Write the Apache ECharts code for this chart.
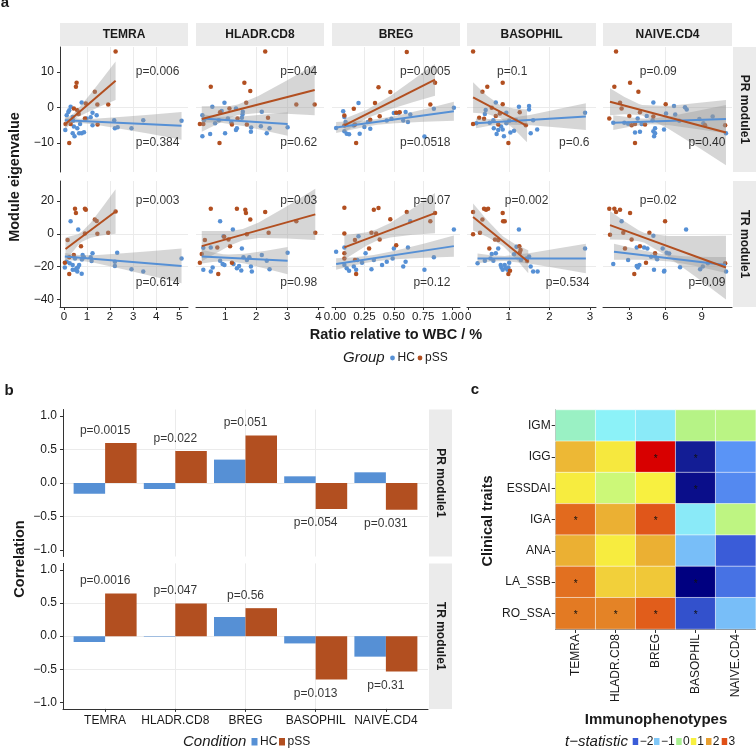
<!DOCTYPE html>
<html><head><meta charset="utf-8">
<script src="https://cdn.jsdelivr.net/npm/echarts@6/dist/echarts.min.js"></script>
<style>html,body{margin:0;padding:0;background:#fff}#c{width:756px;height:748px}</style>
</head><body><div id="c"></div><script>
// ---------------- DATA ----------------
const cellTypes = ['TEMRA','HLADR.CD8','BREG','BASOPHIL','NAIVE.CD4'];
const modules = ['PR module1','TR module1'];

// Panel a: scatter points [ratio, eigenvalue]
const temraPR_HC = [[0.06,-6.4],[0.12,-2.2],[0.19,-1.3],[0.29,0.2],[0.23,-0.8],[0.38,-2.7],[0.40,-3.8],[0.43,-5.4],[0.38,-7.3],[0.46,-8.1],[0.66,-7.3],[0.77,-7.3],[0.87,-7.0],[0.58,-5.9],[0.70,-4.7],[0.77,1.4],[0.98,-3.1],[1.16,-2.8],[1.24,-5.0],[1.24,-1.5],[1.42,-2.2],[2.18,-3.6],[2.21,-5.9],[2.33,-5.6],[2.93,-5.9],[3.44,-3.6],[5.10,-3.8]];
const temraPR_pSS = [[2.24,15.7],[0.55,6.9],[0.52,5.8],[1.34,4.4],[1.45,0.8],[1.92,0.8],[0.95,1.1],[0.43,-0.3],[0.58,-0.8],[0.64,-1.9],[0.91,-3.1],[1.46,-4.8],[0.07,-4.7],[0.29,-4.7],[0.23,-10.0]];
const hladrPR_HC = [[0.27,-8.1],[0.52,-7.5],[0.59,0.2],[0.27,-2.2],[0.98,1.3],[0.89,-1.0],[1.35,-0.3],[1.0,-7.3],[1.35,-6.4],[1.54,-2.9],[1.56,-2.0],[1.57,-1.2],[1.84,-5.7],[1.83,-6.9],[2.18,-1.2],[2.15,-5.3],[2.34,-7.3],[2.43,-5.9],[3.01,-5.6],[0.68,-4.5],[1.09,-3.1],[1.38,-5.9],[0.32,-3.6],[1.2,-4.2],[0.8,-3.6]];
const hladrPR_pSS = [[2.29,15.7],[1.62,6.9],[0.54,5.8],[1.81,4.6],[1.68,1.3],[3.29,0.8],[3.88,0.8],[1.14,-0.3],[1.4,-3.1],[2.38,-2.9],[0.84,-1.4],[0.19,-4.7],[0.3,-4.7],[1.22,-4.8],[1.7,-4.8],[0.82,-10.0]];
const bregPR_HC = [[0.01,-5.8],[0.07,-1.1],[0.08,-2.7],[0.09,-4.1],[0.08,-6.7],[0.12,-7.6],[0.10,-7.4],[0.16,-5.1],[0.20,1.2],[0.21,-7.4],[0.25,-5.5],[0.28,-4.1],[0.30,-6.0],[0.44,-3.7],[0.48,-3.2],[0.50,-1.6],[0.54,-1.6],[0.58,-3.7],[0.60,-1.3],[0.62,-4.1],[0.64,-2.0],[0.76,-8.2],[0.84,-0.4],[1.01,-0.1]];
const bregPR_pSS = [[0.61,15.6],[0.85,6.9],[0.37,5.7],[0.47,4.3],[0.34,1.2],[0.81,0.8],[0.16,-0.4],[0.52,-1.5],[0.08,-2.3],[0.38,-2.5],[0.30,-3.5],[0.17,-4.8],[0.08,-5.1],[0.18,-10.0],[0.55,-1.4]];
const basoPR_HC = [[0.68,1.4],[0.94,-1.5],[0.43,-0.75],[0.41,-1.9],[0.62,-3.6],[0.63,-5.9],[0.70,-7.5],[0.74,-6.4],[0.81,-5.4],[0.85,-6.2],[0.88,-8.1],[0.94,-4.5],[1.01,-3.8],[1.04,-7.1],[1.13,-6.6],[1.18,-3.6],[1.25,0.2],[1.50,0.4],[1.50,-0.6],[1.60,-3.6],[1.54,-7.3],[1.70,-6.2],[2.88,-1.5],[0.53,-4.3],[0.2,-4.5]];
const basoPR_pSS = [[0.12,15.7],[0.85,6.9],[0.47,5.8],[0.35,4.4],[0.85,0.9],[1.27,-1.4],[0.58,-0.1],[0.68,-2.4],[0.27,-2.9],[0.39,-3.2],[0.78,-1.7],[0.12,-4.7],[1.42,-5.0],[0.99,-10.0],[0.74,-4.8]];
const naivePR_HC = [[4.99,1.4],[6.7,0.4],[7.61,0],[7.75,-0.6],[6.04,-1.7],[9.9,-2.6],[8.8,-3.3],[2.59,-4.3],[3.69,-3.1],[4.02,-4.7],[4.44,-2.4],[4.93,-3.6],[5.13,-5.9],[4.99,-6.7],[5.13,-7.3],[5.05,-8.1],[5.87,-6.2],[3.47,-7.1],[3.88,-6.9],[7.14,-3.8],[11.0,-7.3],[9.13,-4.5],[1.67,-4.3],[6.8,-2.0],[2.9,-4.6]];
const naivePR_pSS = [[1.9,15.7],[1.76,5.8],[3.06,6.9],[3.75,4.4],[6.01,0.9],[2.23,1.3],[2.36,-0.3],[3.0,-2.4],[3.88,-1.4],[4.99,-2.6],[1.34,-3.1],[3.19,-5.0],[3.47,-4.7],[4.3,-4.8],[9.27,-5.0],[10.93,-5.0],[3.47,-10.0]];

const temraTR_HC = [[0.29,7.7],[0.62,2.6],[0.04,-20.6],[0.12,-17],[0.38,-19],[0.48,-15],[0.49,-22],[0.55,-21],[0.58,-23],[0.66,-19],[0.81,-12.9],[0.78,-15.6],[0.87,-14.3],[1.24,-11.9],[1.2,-16.6],[2.21,-17],[2.21,-19.6],[2.31,-11.5],[2.93,-21.6],[3.44,-23],[5.1,-15],[0.38,-22],[0.77,-24.4],[1.16,-14.3],[0.25,-18],[0.6,-20.5]];
const temraTR_pSS = [[2.24,13.7],[0.48,15.4],[0.52,12.7],[0.91,15.4],[0.95,14.7],[1.34,8.7],[1.42,7.9],[1.92,0.6],[1.45,0],[0.91,0.2],[0.74,-7.5],[0.16,-3.8],[0.04,-17.6],[0.23,-14.3],[0.23,-24.6],[0.43,-12.9]];
const hladrTR_HC = [[0.84,7.7],[1.25,2.6],[0.95,-1.4],[0.30,-8.5],[0.54,-8.3],[1.54,-8.9],[0.30,-22],[0.54,-23],[0.84,-16.4],[0.92,-18.4],[1.27,-18.4],[1.38,-21],[1.52,-22.4],[1.59,-14.3],[1.7,-16],[1.78,-14.3],[1.83,-20],[1.86,-23],[2.18,-12.9],[2.34,-16.4],[2.43,-21.6],[3.01,-11.5],[0.6,-20.5],[1.45,-19.6],[0.98,-19]];
const hladrTR_pSS = [[0.54,15.4],[1.38,15.4],[1.65,14.7],[1.67,12.7],[2.29,13.3],[1.81,8.7],[3.29,7.7],[3.9,0.6],[2.4,0.6],[1.7,-0.2],[0.97,-1.8],[0.35,-3.8],[1.11,-3.4],[0.75,-8.3],[1.16,-7.5],[0.25,-12.3],[0.19,-17.6],[0.78,-24.6],[1.22,-17.6]];
const bregTR_HC = [[0.01,-10.9],[0.08,-8.3],[0.08,-19],[0.10,-21],[0.12,-22.6],[0.16,-20],[0.18,-22],[0.19,-16],[0.2,-1.4],[0.23,-17.6],[0.26,-11.9],[0.31,-21.6],[0.33,-16],[0.40,-19],[0.44,-17],[0.50,-8.9],[0.49,-15],[0.58,-20],[0.60,-17],[0.62,-8.3],[0.64,7.7],[0.76,-22],[0.84,-14.3],[1.01,2.6]];
const bregTR_pSS = [[0.08,16],[0.33,14.7],[0.37,15.8],[0.61,13.3],[0.85,12.7],[0.81,7.7],[0.47,8.9],[0.08,0.2],[0.31,0.6],[0.35,0.2],[0.38,-3.4],[0.17,-3.8],[0.08,-11.9],[0.08,-15],[0.17,-16],[0.18,-24.6],[0.29,-8.9],[0.52,-6.9]];
const basoTR_HC = [[0.23,-18],[0.41,-16.4],[0.55,-15],[0.58,-12.3],[0.68,-11.9],[0.74,-8.9],[0.80,-19],[0.82,-20.6],[0.85,-22],[0.90,-19],[0.99,-20.6],[1.01,-17.6],[0.97,-22],[1.13,-12.5],[1.19,-7.9],[1.25,2.6],[1.44,-15],[1.50,-13.9],[1.54,-20],[1.60,-23],[1.71,-23],[2.88,-8.9],[0.62,-16.5],[0.93,-21],[1.3,-16]];
const basoTR_pSS = [[0.12,13.3],[0.39,15.4],[0.44,14.7],[0.49,15.4],[0.85,12.7],[0.86,7.7],[0.90,7.7],[0.12,-0.2],[0.29,0.6],[0.35,8.7],[0.66,-3.4],[0.74,-3.8],[1.26,-7.5],[1.29,-9.9],[0.52,-8.9],[1.27,-11.5],[1.45,-16.6],[0.99,-24.6],[1.03,-22.6]];
const naiveTR_HC = [[2.36,7.7],[7.7,2.6],[4.99,-1.2],[3.61,-8.3],[4.22,-8.3],[4.49,-8.9],[5.76,-8.9],[6.09,-11.5],[5.13,-13.9],[1.67,-18.4],[3.61,-19.6],[3.83,-19],[5.04,-22],[5.87,-23],[7.2,-20.4],[8.86,-21.6],[9.08,-20],[11.01,-23],[3.7,-20.5],[5.3,-15.5],[6.3,-12],[5.9,-22.5],[4.8,-14],[2.9,-16],[9.5,-18]];
const naiveTR_pSS = [[1.34,15.4],[1.76,15.4],[1.9,13.3],[2.23,14.7],[3.06,12.7],[5.96,7.7],[2.5,0.6],[3.19,-3.4],[3.88,-7.5],[4.66,0.6],[5.13,-11.9],[4.38,-17.6],[3.41,-24.6],[2.64,-8.9],[10.93,-18],[1.4,-0.5]];

// Panel a: fitted lines [x0, y0, x1, y1] per cell type
const fitPR_HC  = [[0.04,-3.6,5.1,-5.2],[0.25,-3.1,3.01,-4.7],[0.01,-5.7,1.01,-1.1],[0.19,-4.5,2.9,-2.6],[1.67,-4.3,11.0,-3.3]];
const fitPR_pSS = [[0.04,-4.8,2.24,7.5],[0.25,-3.3,3.88,4.9],[0.08,-5.1,0.85,7.8],[0.12,2.8,1.45,-5.2],[1.4,1.6,11.0,-7.1]];
const fitTR_HC  = [[0.04,-13.9,5.1,-19.6],[0.25,-13.9,3.01,-16.4],[0.01,-18.4,1.01,-7.5],[0.23,-15,2.9,-15],[1.73,-10.9,11.0,-19]];
const fitTR_pSS = [[0.07,-9.3,2.24,13.7],[0.25,-7.5,3.9,11.9],[0.08,-8.3,0.85,12.7],[0.12,10.3,1.48,-17],[1.4,5.3,11.0,-20.6]];

// Panel a: confidence ribbons [x, lower, upper]
const ribPR_HC = [
  [[0.04,-4.45,-2.75],[0.72,-4.42,-3.22],[1.31,-4.79,-3.21],[2.57,-6.13,-2.67],[3.84,-7.6,-2.0],[5.1,-9.1,-1.3]],
  [[0.25,-4.25,-1.95],[0.82,-4.23,-2.63],[1.63,-5.33,-2.47],[2.32,-6.64,-1.96],[3.01,-8.0,-1.4]],
  [[0.01,-7.25,-4.15],[0.26,-5.43,-3.67],[0.36,-4.91,-3.31],[0.51,-4.45,-2.45],[0.76,-4.05,-0.55],[1.01,-3.75,1.55]],
  [[0.19,-5.9,-3.1],[0.5,-5.28,-3.28],[0.84,-4.84,-3.24],[1.55,-5.04,-2.06],[2.22,-5.67,-0.49],[2.9,-6.35,1.15]],
  [[1.67,-6.4,-2.2],[2.84,-5.62,-2.72],[4.0,-4.98,-3.12],[4.76,-4.77,-3.17],[6.34,-5.07,-2.53],[8.67,-6.13,-0.97],[11.0,-7.3,0.7]]
];
const ribPR_pSS = [
  [[0.04,-6.3,-3.3],[0.42,-3.7,-1.7],[0.59,-2.8,-0.6],[1.14,-1.0,3.7],[1.69,0.6,8.3],[2.24,2.1,12.9]],
  [[0.25,-6.9,0.3],[1.16,-2.91,0.41],[1.41,-2.18,0.82],[2.07,-1.57,3.17],[2.97,-1.79,7.49],[3.88,-2.2,12.0]],
  [[0.08,-7.0,-3.2],[0.27,-3.08,-0.68],[0.47,-0.52,3.22],[0.66,1.45,7.7],[0.85,3.3,12.3]],
  [[0.12,-1.5,7.1],[0.45,-1.8,3.4],[0.79,-3.0,0.6],[1.12,-6.05,-0.35],[1.45,-9.8,-0.6]],
  [[1.4,-2.2,5.4],[2.6,-1.93,2.95],[3.8,-2.12,0.97],[4.07,-2.32,0.68],[6.2,-5.92,0.42],[8.6,-11.05,1.2],[11.0,-16.3,2.1]]
];
const ribTR_HC = [
  [[0.04,-16.1,-11.7],[0.64,-16.28,-12.88],[1.31,-17.64,-13.02],[2.57,-21.6,-11.9],[3.84,-25.87,-10.49],[5.1,-30.2,-9.0]],
  [[0.25,-18.1,-9.7],[0.6,-17.2,-11.25],[0.94,-16.67,-12.39],[1.12,-16.69,-12.69],[1.63,-18.11,-12.19],[2.32,-21.27,-10.27],[3.01,-24.7,-8.1]],
  [[0.01,-21.9,-14.9],[0.135,-19.69,-14.39],[0.26,-17.77,-13.59],[0.33,-16.94,-12.94],[0.51,-15.55,-10.35],[0.76,-14.63,-5.83],[1.01,-14.0,-1.0]],
  [[0.23,-18,-12],[0.56,-16.91,-13.09],[0.9,-16.52,-13.48],[1.57,-18.48,-11.52],[2.23,-21.19,-8.81],[2.9,-24,-6]],
  [[1.73,-15.75,-6.05],[2.87,-15.79,-8.01],[4.0,-15.9,-9.87],[5.2,-16.22,-11.64],[6.37,-16.95,-12.95],[7.5,-18.22,-13.66],[8.68,-19.98,-13.96],[9.84,-21.86,-14.12],[11.0,-23.85,-14.15]]
];
const ribTR_pSS = [
  [[0.07,-16.4,-2.2],[0.61,-6.9,-0.2],[0.78,-4.77,1.23],[1.16,-2.34,6.74],[1.7,-0.9,16.8],[2.24,0.1,27.3]],
  [[0.25,-16.8,1.8],[1.16,-7.05,1.75],[1.57,-3.98,3.02],[2.08,-2.6,7.0],[2.99,-2.84,16.94],[3.9,-3.7,27.5]],
  [[0.08,-15.7,-0.9],[0.27,-7.05,0.95],[0.35,-4.33,2.67],[0.47,-2.18,6.58],[0.66,-0.57,15.47],[0.85,0.4,25.0]],
  [[0.12,2.0,18.6],[0.46,-1.7,8.66],[0.80,-6.43,-0.27],[0.87,-7.71,-1.71],[1.14,-14.28,-6.06],[1.48,-24,-10]],
  [[1.4,-3.4,14.0],[2.6,-3.55,7.67],[3.8,-4.45,2.09],[4.26,-5.42,0.58],[6.2,-13.96,-1.34],[8.6,-26.9,-1.36],[11.0,-40.1,-1.1]]
];

// Panel a: p-value texts
const pTextPR_pSS = ['p=0.006','p=0.04','p=0.0005','p=0.1','p=0.09'];
const pTextPR_HC  = ['p=0.384','p=0.62','p=0.0518','p=0.6','p=0.40'];
const pTextTR_pSS = ['p=0.003','p=0.03','p=0.07','p=0.002','p=0.02'];
const pTextTR_HC  = ['p=0.614','p=0.98','p=0.12','p=0.534','p=0.09'];

// Panel b: correlations
const corrPR_HC  = [-0.16,-0.09,0.35,0.10,0.16];
const corrPR_pSS = [0.60,0.48,0.71,-0.39,-0.40];
const corrTR_HC  = [-0.09,-0.01,0.29,-0.11,-0.31];
const corrTR_pSS = [0.645,0.494,0.423,-0.654,-0.533];
const pCorrPR = ['p=0.0015','p=0.022','p=0.051','p=0.054','p=0.031'];
const pCorrTR = ['p=0.0016','p=0.047','p=0.56','p=0.013','p=0.31'];

// Panel c: t-statistics
const traits = ['IGM','IGG','ESSDAI','IGA','ANA','LA_SSB','RO_SSA'];
const tStat = [
  [-0.25,-0.5,-0.6,0.2,0.25],
  [1.7,1.1,3.5,-2.6,-1.5],
  [1.05,0.5,1.0,-2.8,-1.6],
  [2.6,1.8,2.9,-0.6,0.3],
  [1.8,1.05,1.8,-1.1,-2.0],
  [2.5,1.4,1.5,-3.0,-1.8],
  [2.4,2.3,2.8,-2.1,-1.1]
];
const tSig = [
  [0,0,0,0,0],[0,0,1,1,0],[0,0,0,1,0],[1,0,1,0,0],[0,0,0,0,0],[1,0,0,1,0],[1,1,1,1,0]
];
const tLegendVals = [-2,-1,0,1,2,3];

// ---------------- STYLE / LAYOUT ----------------
const FF = '"Liberation Sans", Arial, Helvetica, sans-serif';
const TXT = '#1a1a1a';
const HC_COL = '#5690D5', PSS_COL = '#B24F20';
const GRID_COL = '#EBEBEB', STRIP_COL = '#EBEBEB', AX_COL = '#333333';
const RIB_FILL = 'rgba(153,153,153,0.4)';
const heatColors = ['#000080','#18249A','#3A5CD8','#5A94F6','#80C8F8','#8CF2F8','#A8F090','#CCF878','#F8F040','#F0C838','#E8A030','#E27020','#E05018','#D80000'];

const colLeft=[60,196,332,467,603], colW=[128,128,128,129,129];
const rowTop=[47,181], rowH=[125,126];
const xRange=[[-0.17,5.38],[0.065,4.18],[-0.025,1.062],[-0.03,3.15],[0.82,11.5]];
const xTicks=[[0,1,2,3,4,5],[1,2,3,4],[0,0.25,0.5,0.75,1],[0,1,2,3],[3,6,9]];
const xStep=[1,1,0.25,1,3];
const yRange=[[-18.2,17],[-44.7,32.3]], yTicks=[[-10,0,10],[-40,-20,0,20]], yStep=[10,20];
// p-label anchors (data units; text right edge)
const annX = {PR_pSS:[5.03,3.98,0.985,1.47,6.97], PR_HC:[5.03,3.98,0.985,3.0,11.0], TR_pSS:[5.03,3.98,0.985,1.99,6.97], TR_HC:[5.03,3.98,0.985,3.0,11.0]};
const annY = {PR_pSS:10, PR_HC:-10, TR_pSS:20, TR_HC:-30};

const minus = v => String(v).replace('-', '\u2212');

const grids=[], xAxes=[], yAxes=[], series=[], graphics=[];

function txt(x, y, text, o) {
  o = o || {};
  graphics.push({type:'text', x, y, rotation:o.rot||0, silent:true, z:10,
    style:{text, fill:o.fill||TXT, fontSize:o.size||12, fontWeight:o.weight||'normal', fontStyle:o.style||'normal',
      fontFamily:FF, align:o.align||'center', verticalAlign:'middle'}});
}
function rect(x, y, w, h, fill) {
  graphics.push({type:'rect', shape:{x, y, width:w, height:h}, style:{fill}, silent:true, z:9});
}
function ribbonSeries(g, rib) {
  return {type:'custom', xAxisIndex:g, yAxisIndex:g, data:[[rib[0][0], rib[0][1]]], z:3, silent:true, clip:true,
    renderItem:(params, api) => {
      const top = rib.map(p => api.coord([p[0], p[2]]));
      const bot = rib.slice().reverse().map(p => api.coord([p[0], p[1]]));
      return {type:'polygon', shape:{points: top.concat(bot)}, style:{fill: RIB_FILL}};
    }};
}

// ---------------- PANEL A ----------------
const rowsA = [
  {hc:[temraPR_HC,hladrPR_HC,bregPR_HC,basoPR_HC,naivePR_HC], pss:[temraPR_pSS,hladrPR_pSS,bregPR_pSS,basoPR_pSS,naivePR_pSS],
   fitHC:fitPR_HC, fitPSS:fitPR_pSS, ribHC:ribPR_HC, ribPSS:ribPR_pSS, tHC:pTextPR_HC, tPSS:pTextPR_pSS, key:'PR'},
  {hc:[temraTR_HC,hladrTR_HC,bregTR_HC,basoTR_HC,naiveTR_HC], pss:[temraTR_pSS,hladrTR_pSS,bregTR_pSS,basoTR_pSS,naiveTR_pSS],
   fitHC:fitTR_HC, fitPSS:fitTR_pSS, ribHC:ribTR_HC, ribPSS:ribTR_pSS, tHC:pTextTR_HC, tPSS:pTextTR_pSS, key:'TR'}
];

rowsA.forEach((R, r) => {
  for (let c = 0; c < 5; c++) {
    const g = grids.length;
    grids.push({left:colLeft[c], top:rowTop[r], width:colW[c], height:rowH[r], containLabel:false, outerBoundsMode:'none'});
    xAxes.push({type:'value', gridIndex:g, min:xRange[c][0], max:xRange[c][1], minInterval:xStep[c], maxInterval:xStep[c],
      axisLine:{show:r===1, onZero:false, lineStyle:{color:AX_COL, width:1}},
      axisTick:{show:r===1, length:3, customValues:xTicks[c], lineStyle:{color:AX_COL}},
      axisLabel:{show:r===1, customValues:xTicks[c], margin:4, fontSize:11.5, fontFamily:FF, color:TXT,
        formatter: v => c===2 ? Number(v).toFixed(2) : String(v)},
      splitLine:{show:true, showMinLine:false, showMaxLine:false, lineStyle:{color:GRID_COL, width:1}}});
    yAxes.push({type:'value', gridIndex:g, min:yRange[r][0], max:yRange[r][1], minInterval:yStep[r], maxInterval:yStep[r],
      axisLine:{show:c===0, onZero:false, lineStyle:{color:AX_COL, width:1}},
      axisTick:{show:c===0, length:3, customValues:yTicks[r], lineStyle:{color:AX_COL}},
      axisLabel:{show:c===0, customValues:yTicks[r], margin:6, fontSize:12, fontFamily:FF, color:TXT, formatter: v => minus(v)},
      splitLine:{show:true, showMinLine:false, showMaxLine:false, lineStyle:{color:GRID_COL, width:1}}});
    series.push({type:'scatter', xAxisIndex:g, yAxisIndex:g, data:R.hc[c], symbolSize:4.5, itemStyle:{color:HC_COL, opacity:1}, z:2, silent:true});
    series.push({type:'scatter', xAxisIndex:g, yAxisIndex:g, data:R.pss[c], symbolSize:4.5, itemStyle:{color:PSS_COL, opacity:1}, z:2, silent:true});
    series.push(ribbonSeries(g, R.ribHC[c]));
    series.push(ribbonSeries(g, R.ribPSS[c]));
    [[R.fitHC[c], HC_COL], [R.fitPSS[c], PSS_COL]].forEach(([f, col]) => {
      series.push({type:'line', xAxisIndex:g, yAxisIndex:g, data:[[f[0],f[1]],[f[2],f[3]]], symbol:'none', showSymbol:false,
        lineStyle:{color:col, width:2}, z:4, silent:true});
    });
    series.push({type:'scatter', xAxisIndex:g, yAxisIndex:g, symbolSize:1, itemStyle:{color:'rgba(0,0,0,0)'}, z:5, silent:true,
      data:[{value:[annX[R.key+'_pSS'][c], annY[R.key+'_pSS']], name:R.tPSS[c]}, {value:[annX[R.key+'_HC'][c], annY[R.key+'_HC']], name:R.tHC[c]}],
      label:{show:true, position:'left', distance:0, formatter:'{b}', fontSize:12, fontFamily:FF, color:'#000'}});
    if (r === 0) { rect(colLeft[c], 23, colW[c], 23, STRIP_COL); txt(colLeft[c]+colW[c]/2, 34.5, cellTypes[c], {weight:'bold'}); }
  }
  rect(733, rowTop[r], 23, rowH[r], STRIP_COL);
  txt(744.5, rowTop[r]+rowH[r]/2, modules[r], {weight:'bold', rot:-Math.PI/2});
});

txt(5, 3, 'a', {weight:'bold', size:15});
txt(15, 177, 'Module eigenvalue', {weight:'bold', size:14.5, rot:Math.PI/2});
txt(396, 335, 'Ratio relative to WBC / %', {weight:'bold', size:14.5});
txt(343, 358, 'Group', {style:'italic', size:15, align:'left'});
graphics.push({type:'circle', shape:{cx:392.5, cy:358, r:2.4}, style:{fill:HC_COL}, silent:true, z:10});
txt(397.5, 358, 'HC', {align:'left'});
graphics.push({type:'circle', shape:{cx:420, cy:358, r:2.4}, style:{fill:PSS_COL}, silent:true, z:10});
txt(425, 358, 'pSS', {align:'left'});

// ---------------- PANEL B ----------------
const rowsB = [
  {hc:corrPR_HC, pss:corrPR_pSS, p:pCorrPR, top:409.5, h:147},
  {hc:corrTR_HC, pss:corrTR_pSS, p:pCorrTR, top:563.4, h:145.5}
];
rowsB.forEach((R, r) => {
  const g = grids.length;
  grids.push({left:63, top:R.top, width:365, height:R.h, containLabel:false, outerBoundsMode:'none'});
  xAxes.push({type:'value', gridIndex:g, min:0.4, max:5.6, minInterval:1, maxInterval:1,
    axisLine:{show:r===1, onZero:false, lineStyle:{color:AX_COL}},
    axisTick:{show:r===1, length:3, customValues:[1,2,3,4,5], lineStyle:{color:AX_COL}},
    axisLabel:{show:r===1, customValues:[1,2,3,4,5], margin:6, fontSize:12, fontFamily:FF, color:TXT, formatter: v => cellTypes[Math.round(v)-1]},
    splitLine:{show:true, showMinLine:false, showMaxLine:false, lineStyle:{color:GRID_COL}}});
  yAxes.push({type:'value', gridIndex:g, min:-1.1, max:1.1, minInterval:0.5, maxInterval:0.5,
    axisLine:{show:true, onZero:false, lineStyle:{color:AX_COL}},
    axisTick:{show:true, length:3, customValues:[-1,-0.5,0,0.5,1], lineStyle:{color:AX_COL}},
    axisLabel:{show:true, customValues:[-1,-0.5,0,0.5,1], margin:6, fontSize:12, fontFamily:FF, color:TXT, formatter: v => minus(Number(v).toFixed(1))},
    splitLine:{show:true, showMinLine:false, showMaxLine:false, lineStyle:{color:GRID_COL}}});
  series.push({type:'bar', xAxisIndex:g, yAxisIndex:g, data:R.hc.map((v,i)=>[i+1,v]), barWidth:31.5, barGap:'0%', itemStyle:{color:HC_COL}, silent:true, z:2});
  series.push({type:'bar', xAxisIndex:g, yAxisIndex:g, data:R.pss.map((v,i)=>[i+1,v]), barWidth:31.5, barGap:'0%', itemStyle:{color:PSS_COL}, silent:true, z:2});
  series.push({type:'scatter', xAxisIndex:g, yAxisIndex:g, symbolSize:1, itemStyle:{color:'rgba(0,0,0,0)'}, z:5, silent:true,
    data:R.pss.map((v,i)=>({value:[i+1, v>0 ? v+0.19 : v-0.21], name:R.p[i]})),
    label:{show:true, position:'inside', formatter:'{b}', fontSize:12, fontFamily:FF, color:'#000'}});
  rect(429, R.top, 23, R.h, STRIP_COL);
  txt(440.5, R.top+R.h/2, modules[r], {weight:'bold', rot:-Math.PI/2});
});
txt(9, 391, 'b', {weight:'bold', size:15});
txt(20, 559, 'Correlation', {weight:'bold', size:14.5, rot:Math.PI/2});
txt(183, 741.5, 'Condition', {style:'italic', size:15, align:'left'});
rect(251.5, 738, 6, 7.5, HC_COL); txt(260, 741.5, 'HC', {align:'left'});
rect(279, 738, 6, 7.5, PSS_COL); txt(287.5, 741.5, 'pSS', {align:'left'});

// ---------------- PANEL C ----------------
const gH = grids.length;
grids.push({left:555.7, top:410, width:200, height:219, containLabel:false, outerBoundsMode:'none'});
xAxes.push({type:'category', gridIndex:gH, data:cellTypes,
  axisLine:{show:true, lineStyle:{color:AX_COL}}, axisTick:{show:true, alignWithLabel:true, length:4, lineStyle:{color:AX_COL}},
  axisLabel:{rotate:90, margin:5, fontSize:12, fontFamily:FF, color:TXT, interval:0}, splitLine:{show:false}});
yAxes.push({type:'category', gridIndex:gH, data:traits, inverse:true,
  axisLine:{show:true, lineStyle:{color:AX_COL}}, axisTick:{show:true, alignWithLabel:true, length:4, lineStyle:{color:AX_COL}},
  axisLabel:{margin:5, fontSize:12, fontFamily:FF, color:TXT, interval:0}, splitLine:{show:false}});
const heatData = [];
tStat.forEach((row, i) => row.forEach((v, j) => heatData.push([j, i, v])));
const heatIndex = series.length;
series.push({type:'heatmap', xAxisIndex:gH, yAxisIndex:gH, data:heatData, silent:true,
  itemStyle:{borderColor:'rgba(255,255,255,0.55)', borderWidth:1},
  label:{show:true, formatter: p => tSig[p.data[1]][p.data[0]] ? '*' : '', fontSize:10, color:'#111', offset:[0,2]}});
txt(475, 390, 'c', {weight:'bold', size:15});
txt(488, 521, 'Clinical traits', {weight:'bold', size:14.5, rot:Math.PI/2});
txt(656, 720, 'Immunophenotypes', {weight:'bold', size:15});
txt(565, 741.5, 't\u2212statistic', {style:'italic', size:15, align:'left'});
const legSqX = [632.7, 654, 676.2, 690.8, 706, 721.7];
const legTxtX = [639.7, 661, 683, 697.3, 712.8, 728.5];
tLegendVals.forEach((v, k) => {
  rect(legSqX[k], 738, 5.5, 7, heatColors[(v + 3) * 2]);
  txt(legTxtX[k], 741.5, minus(v), {align:'left'});
});

// ---------------- CHART ----------------
const chart = echarts.init(document.getElementById('c'), null, {renderer:'canvas', width:756, height:748});
chart.setOption({
  animation:false,
  backgroundColor:'#ffffff',
  textStyle:{fontFamily:FF},
  grid:grids, xAxis:xAxes, yAxis:yAxes,
  visualMap:[{type:'continuous', show:false, seriesIndex:heatIndex, dimension:2, min:-3, max:3.5, inRange:{color:heatColors}}],
  series,
  graphic:{elements:graphics}
});
</script></body></html>
